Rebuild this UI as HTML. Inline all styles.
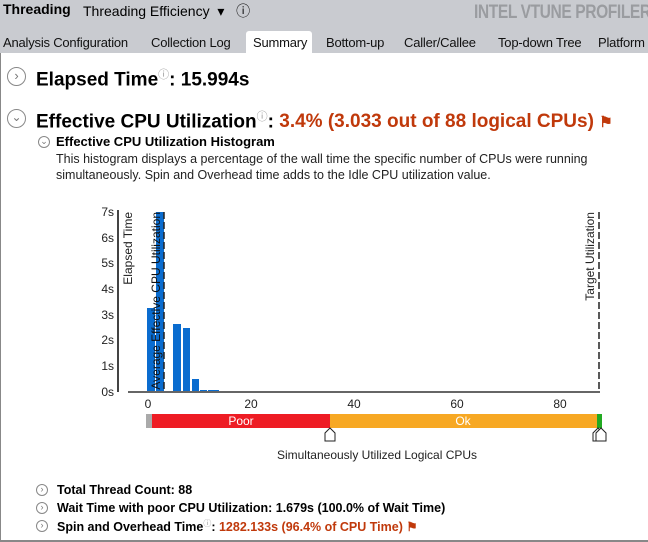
<!DOCTYPE html>
<html><head><meta charset="utf-8"><style>
body{margin:0;width:648px;height:542px;position:relative;overflow:hidden;font-family:"Liberation Sans",Arial,sans-serif;background:#fff}
.hdr{position:absolute;left:0;top:0;width:648px;height:53px;background:#c9cbd0}
.abs{position:absolute;white-space:nowrap}
.tab{position:absolute;top:35px;font-size:13px;color:#111;letter-spacing:-0.2px}
.circ{position:absolute;border:1.5px solid #888;border-radius:50%;box-sizing:border-box;color:#777;text-align:center}
</style></head><body>
<div class="hdr"></div>
<div class="abs" style="left:3px;top:1px;font-size:14px;font-weight:bold">Threading</div>
<div class="abs" style="left:83px;top:1px;font-size:14px">Threading Efficiency &nbsp;▾ &nbsp;&nbsp;ⓘ</div>
<div class="abs" style="left:474px;top:2px;font-size:19px;font-weight:bold;color:#9a9ca0;letter-spacing:-0.5px;transform:scaleX(0.82);transform-origin:left">INTEL VTUNE PROFILER</div>
<div style="position:absolute;left:246px;top:31px;width:66px;height:22px;background:#fff;border-radius:3px 3px 0 0"></div>
<div class="tab" style="left:3px">Analysis Configuration</div>
<div class="tab" style="left:151px">Collection Log</div>
<div class="tab" style="left:253px">Summary</div>
<div class="tab" style="left:326px">Bottom-up</div>
<div class="tab" style="left:404px">Caller/Callee</div>
<div class="tab" style="left:498px">Top-down Tree</div>
<div class="tab" style="left:598px">Platform</div>
<div style="position:absolute;left:0;top:53px;width:1px;height:489px;background:#888"></div>
<div style="position:absolute;left:0;top:540px;width:648px;height:2px;background:#888"></div>

<div class="circ" style="left:7px;top:67px;width:19px;height:19px;font-size:13px;line-height:16px">›</div>
<div class="abs" style="left:36px;top:66px;font-size:19px;font-weight:bold">Elapsed Time<sup style="font-size:11px;color:#999;font-weight:normal">ⓘ</sup>: 15.994s</div>
<div class="circ" style="left:7px;top:109px;width:19px;height:19px;font-size:12px;line-height:15px">⌄</div>
<div class="abs" style="left:36px;top:108px;font-size:19px;font-weight:bold">Effective CPU Utilization<sup style="font-size:11px;color:#999;font-weight:normal">ⓘ</sup>: <span style="color:#c0390b">3.4% (3.033 out of 88 logical CPUs) <span style="font-size:15px">⚑</span></span></div>
<div class="circ" style="left:38px;top:136px;width:12px;height:12px;font-size:9px;line-height:8px">⌄</div>
<div class="abs" style="left:56px;top:134px;font-size:13px;font-weight:bold">Effective CPU Utilization Histogram</div>
<div class="abs" style="left:56px;top:151px;font-size:12.5px;line-height:16px;color:#222">This histogram displays a percentage of the wall time the specific number of CPUs were running<br>simultaneously. Spin and Overhead time adds to the Idle CPU utilization value.</div>

<svg style="position:absolute;left:0;top:0" width="648" height="542" font-family="Liberation Sans,Arial,sans-serif">
<g font-size="12" fill="#222" text-anchor="end">
<text x="114" y="216">7s</text><text x="114" y="242">6s</text><text x="114" y="267">5s</text><text x="114" y="293">4s</text><text x="114" y="319">3s</text><text x="114" y="344">2s</text><text x="114" y="370">1s</text><text x="114" y="396">0s</text>
</g>
<line x1="118" y1="210" x2="118" y2="392" stroke="#444" stroke-width="2"/>
<g fill="#0a6ccf">
<rect x="147" y="308" width="8" height="84"/>
<rect x="156" y="212" width="8" height="180"/>
<rect x="173" y="324" width="8" height="68"/>
<rect x="183" y="328" width="7" height="64"/>
<rect x="192" y="379" width="7" height="13"/>
<rect x="200" y="390" width="7" height="2"/><rect x="208" y="390" width="7" height="2"/><rect x="215" y="390" width="4" height="2"/>
</g>
<line x1="128" y1="392" x2="600" y2="392" stroke="#666" stroke-width="2"/>
<line x1="164" y1="212" x2="164" y2="392" stroke="#222" stroke-width="1.5" stroke-dasharray="7,3"/>
<line x1="599" y1="212" x2="599" y2="392" stroke="#222" stroke-width="1.5" stroke-dasharray="7,3"/>
<text transform="translate(132,212) rotate(-90)" text-anchor="end" font-size="12" fill="#222">Elapsed Time</text>
<text transform="translate(160,212) rotate(-90)" text-anchor="end" font-size="12" fill="#111">Average Effective CPU Utilization</text>
<text transform="translate(594,212) rotate(-90)" text-anchor="end" font-size="12" fill="#222">Target Utilization</text>
<g font-size="12" fill="#222" text-anchor="middle">
<text x="148" y="408">0</text><text x="251" y="408">20</text><text x="354" y="408">40</text><text x="457" y="408">60</text><text x="560" y="408">80</text>
</g>
<rect x="146" y="414" width="6" height="14" fill="#aaa"/>
<rect x="152" y="414" width="178" height="14" fill="#ee1c24"/>
<rect x="330" y="414" width="267" height="14" fill="#f7a823"/>
<rect x="597" y="414" width="5" height="14" fill="#22aa22"/>
<text x="241" y="425" font-size="12" fill="#fff" text-anchor="middle">Poor</text>
<text x="463" y="425" font-size="12" fill="#fff" text-anchor="middle">Ok</text>
<g fill="#fff" stroke="#222" stroke-width="1">
<path d="M325,441 V433 L330,428 L335,433 V441 Z"/>
<path d="M593,441 V433 L598,428 L603,433 V441 Z"/>
<path d="M596,441 V433 L601,428 L606,433 V441 Z"/>
</g>
<text x="377" y="459" font-size="12" fill="#222" text-anchor="middle">Simultaneously Utilized Logical CPUs</text>
</svg>

<div class="circ" style="left:36px;top:484px;width:12px;height:12px;font-size:9px;line-height:9px">›</div>
<div class="abs" style="left:57px;top:483px;font-size:12.5px;font-weight:bold">Total Thread Count: 88</div>
<div class="circ" style="left:36px;top:502px;width:12px;height:12px;font-size:9px;line-height:9px">›</div>
<div class="abs" style="left:57px;top:501px;font-size:12.5px;font-weight:bold">Wait Time with poor CPU Utilization: 1.679s (100.0% of Wait Time)</div>
<div class="circ" style="left:36px;top:520px;width:12px;height:12px;font-size:9px;line-height:9px">›</div>
<div class="abs" style="left:57px;top:518px;font-size:12.5px;font-weight:bold">Spin and Overhead Time<sup style="font-size:8px;color:#999;font-weight:normal">ⓘ</sup>: <span style="color:#c0390b">1282.133s (96.4% of CPU Time) ⚑</span></div>
</body></html>
